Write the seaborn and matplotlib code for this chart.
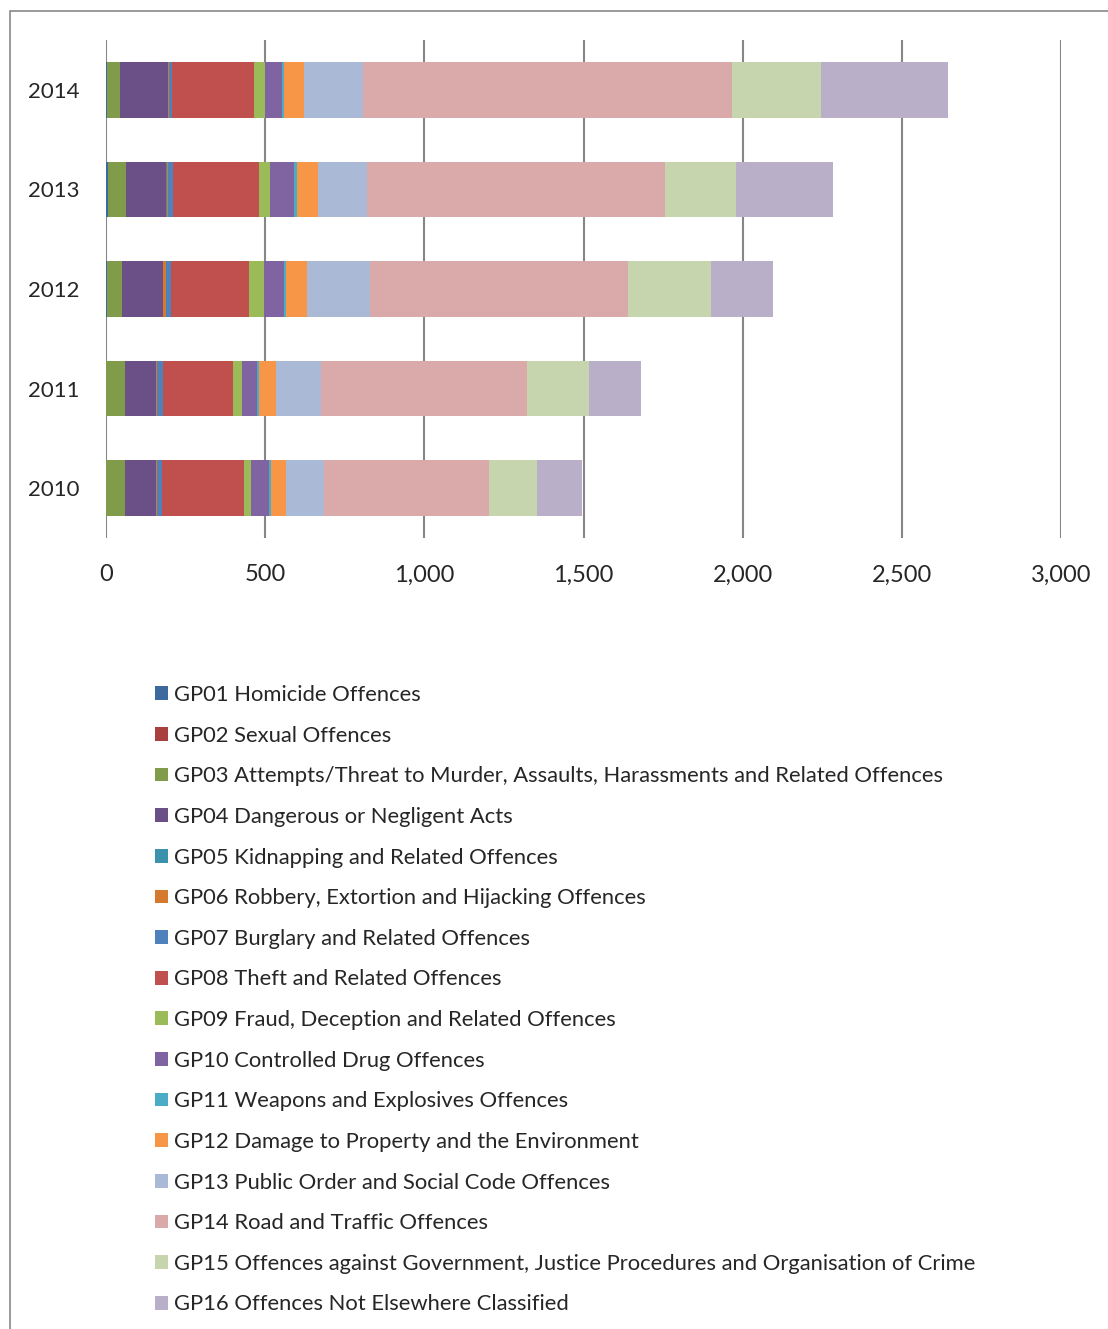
import numpy as np
import pandas as pd
import matplotlib
matplotlib.use("Agg")
import matplotlib.pyplot as plt
from matplotlib.patches import Patch, Rectangle
import seaborn as sns

years = ["2014", "2013", "2012", "2011", "2010"]
series_names = [
    "GP01 Homicide Offences",
    "GP02 Sexual Offences",
    "GP03 Attempts/Threat to Murder, Assaults, Harassments and Related Offences",
    "GP04 Dangerous or Negligent Acts",
    "GP05 Kidnapping and Related Offences",
    "GP06 Robbery, Extortion and Hijacking Offences",
    "GP07 Burglary and Related Offences",
    "GP08 Theft and Related Offences",
    "GP09 Fraud, Deception and Related Offences",
    "GP10 Controlled Drug Offences",
    "GP11 Weapons and Explosives Offences",
    "GP12 Damage to Property and the Environment",
    "GP13 Public Order and Social Code Offences",
    "GP14 Road and Traffic Offences",
    "GP15 Offences against Government, Justice Procedures and Organisation of Crime",
    "GP16 Offences Not Elsewhere Classified",
]
# values per year in order 2014, 2013, 2012, 2011, 2010
gp01 = [2, 6, 2, 1, 1]
gp02 = [0.5, 0.5, 0.5, 0.3, 0.3]
gp03 = [40, 55, 49, 57, 58]
gp04 = [151, 128, 128, 98, 97]
gp05 = [1, 1, 1, 1, 1]
gp06 = [3, 5, 7, 2, 2]
gp07 = [10, 14, 16, 21, 17]
gp08 = [258, 270, 247, 219, 258]
gp09 = [35, 35, 45, 28, 22]
gp10 = [53, 75, 65, 46, 57]
gp11 = [6, 9, 4, 7, 5]
gp12 = [63, 69, 67, 53, 47]
gp13 = [185, 151, 198, 142, 118]
gp14 = [1158, 936, 809, 646, 520]
gp15 = [282, 225, 263, 197, 151]
gp16 = [396, 303, 193, 161, 142]
all_series = [gp01, gp02, gp03, gp04, gp05, gp06, gp07, gp08,
              gp09, gp10, gp11, gp12, gp13, gp14, gp15, gp16]
colors = ["#3C6A9E", "#A8403D", "#809B4A", "#6A5087", "#3A93AB", "#D5792F",
          "#4F81BD", "#C0504D", "#9BBB59", "#8064A2", "#4BACC6", "#F79646",
          "#AAB9D6", "#DAA9A9", "#C7D5AE", "#BAAFC8"]
xticks = [0, 500, 1000, 1500, 2000, 2500, 3000]
xticklabels = ["0", "500", "1,000", "1,500", "2,000", "2,500", "3,000"]

sns.set_style("white")
plt.rcParams["font.family"] = ["Lato", "DejaVu Sans"]

W, H = 1108, 1329
fig = plt.figure(figsize=(W / 100, H / 100), dpi=100)
ax = fig.add_axes([106 / W, 1 - 538 / H, 955 / W, 498 / H])

cum = np.cumsum(np.array(all_series), axis=0)
for i in range(len(all_series) - 1, -1, -1):
    df = pd.DataFrame({"year": years, "value": cum[i]})
    sns.barplot(data=df, x="value", y="year", order=years, orient="h",
                color=colors[i], saturation=1, width=0.56, ax=ax,
                edgecolor="none", linewidth=0, zorder=3)

ax.set_xlim(0, 3000)
ax.set_xticks(xticks)
ax.set_xticklabels(xticklabels, fontsize=17)
ax.tick_params(axis="x", length=0, pad=19)
ax.tick_params(axis="y", length=0, pad=19, labelsize=16)
ax.set_xlabel("")
ax.set_ylabel("")
ax.grid(axis="x", color="#868686", linewidth=1.5, zorder=0)
ax.grid(axis="y", visible=False)
ax.set_axisbelow(True)
for s in ax.spines.values():
    s.set_visible(False)

handles = [Patch(facecolor=c, edgecolor="none") for c in colors]
fig.legend(handles, series_names, loc="upper left",
           bbox_to_anchor=(155 / W, 1 - 685 / H), frameon=False,
           fontsize=15.8, handlelength=0.59, handleheight=0.59,
           handletextpad=0.28, labelspacing=0.94, borderpad=0,
           borderaxespad=0)

fig.add_artist(Rectangle((10 / W, -0.05), 1.2, 1 - 11 / H + 0.05,
                         transform=fig.transFigure, fill=False,
                         edgecolor="#898989", linewidth=1.2))

fig.savefig("out.png", dpi=100)
